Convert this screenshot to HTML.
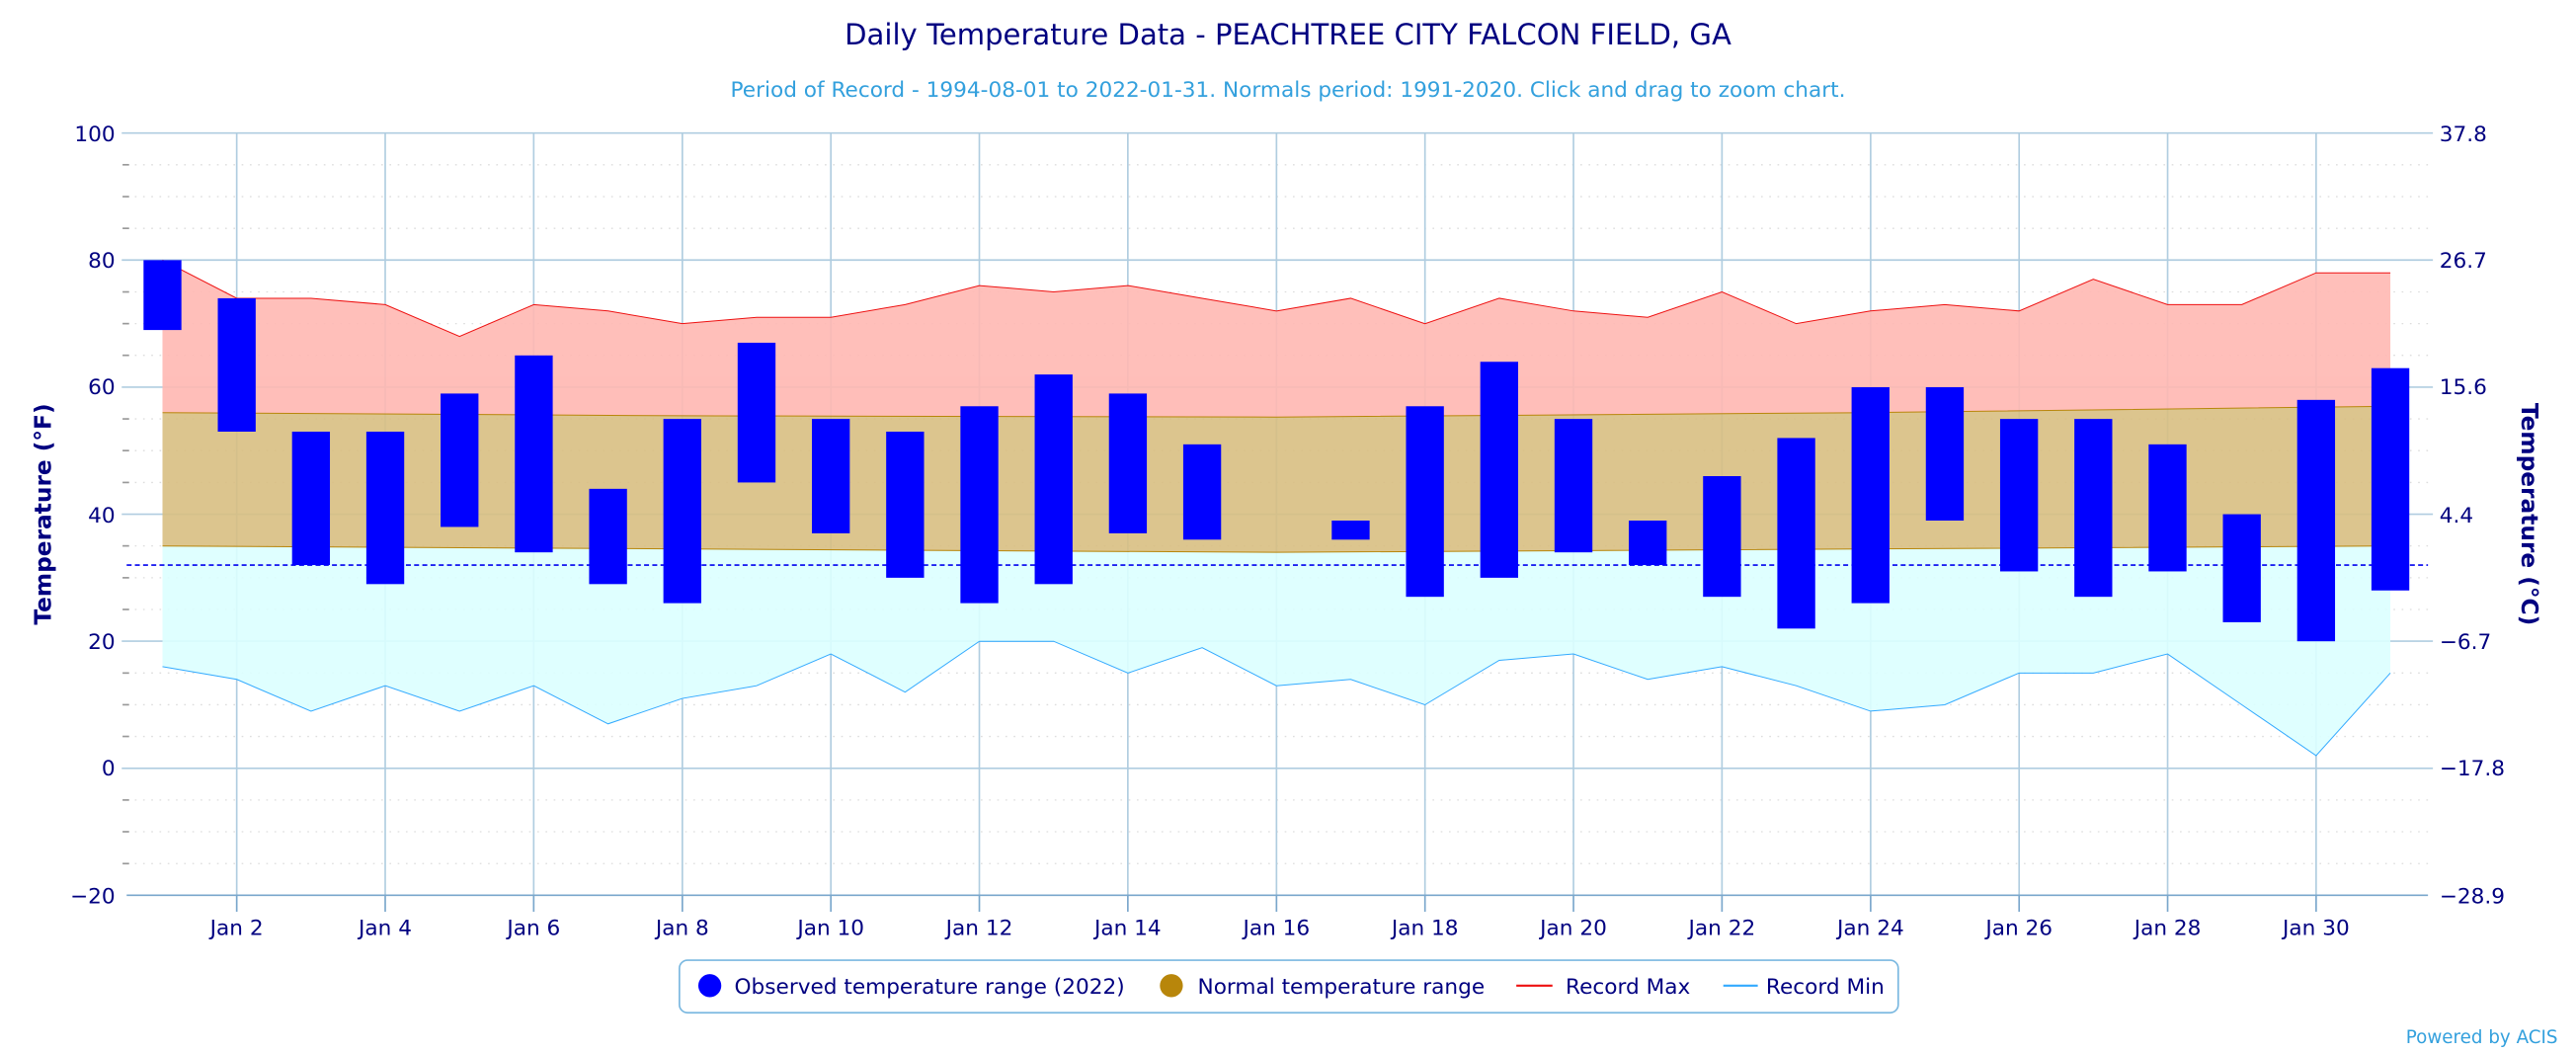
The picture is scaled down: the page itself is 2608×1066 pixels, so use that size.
<!DOCTYPE html>
<html><head><meta charset="utf-8"><style>
html,body{margin:0;padding:0;background:#fff;}
svg{display:block;font-family:"DejaVu Sans","Liberation Sans",sans-serif;}
</style></head><body>
<svg width="2608" height="1066" viewBox="0 0 1568 641" xmlns="http://www.w3.org/2000/svg">
<rect width="1568" height="641" fill="#fff"/>
<text x="784" y="27" text-anchor="middle" font-size="17.5" fill="#000080">Daily Temperature Data - PEACHTREE CITY FALCON FIELD, GA</text>
<text x="784" y="59" text-anchor="middle" font-size="13" fill="#33a0dd">Period of Record - 1994-08-01 to 2022-01-31. Normals period: 1991-2020. Click and drag to zoom chart.</text>

<g stroke="#ddd" stroke-width="0.8" stroke-dasharray="1,4">
<line x1="77" x2="1478" y1="100.3" y2="100.3"/><line x1="77" x2="1478" y1="119.7" y2="119.7"/><line x1="77" x2="1478" y1="139" y2="139"/>
<line x1="77" x2="1478" y1="177.7" y2="177.7"/><line x1="77" x2="1478" y1="197" y2="197"/><line x1="77" x2="1478" y1="216.3" y2="216.3"/>
<line x1="77" x2="1478" y1="255" y2="255"/><line x1="77" x2="1478" y1="274.3" y2="274.3"/><line x1="77" x2="1478" y1="293.7" y2="293.7"/>
<line x1="77" x2="1478" y1="332.3" y2="332.3"/><line x1="77" x2="1478" y1="351.7" y2="351.7"/><line x1="77" x2="1478" y1="371" y2="371"/>
<line x1="77" x2="1478" y1="409.7" y2="409.7"/><line x1="77" x2="1478" y1="429" y2="429"/><line x1="77" x2="1478" y1="448.3" y2="448.3"/>
<line x1="77" x2="1478" y1="487" y2="487"/><line x1="77" x2="1478" y1="506.3" y2="506.3"/><line x1="77" x2="1478" y1="525.7" y2="525.7"/>
</g>
<g stroke="#999" stroke-width="1">
<line x1="74.5" x2="78.5" y1="100.3" y2="100.3"/><line x1="74.5" x2="78.5" y1="119.7" y2="119.7"/><line x1="74.5" x2="78.5" y1="139" y2="139"/>
<line x1="74.5" x2="78.5" y1="177.7" y2="177.7"/><line x1="74.5" x2="78.5" y1="197" y2="197"/><line x1="74.5" x2="78.5" y1="216.3" y2="216.3"/>
<line x1="74.5" x2="78.5" y1="255" y2="255"/><line x1="74.5" x2="78.5" y1="274.3" y2="274.3"/><line x1="74.5" x2="78.5" y1="293.7" y2="293.7"/>
<line x1="74.5" x2="78.5" y1="332.3" y2="332.3"/><line x1="74.5" x2="78.5" y1="351.7" y2="351.7"/><line x1="74.5" x2="78.5" y1="371" y2="371"/>
<line x1="74.5" x2="78.5" y1="409.7" y2="409.7"/><line x1="74.5" x2="78.5" y1="429" y2="429"/><line x1="74.5" x2="78.5" y1="448.3" y2="448.3"/>
<line x1="74.5" x2="78.5" y1="487" y2="487"/><line x1="74.5" x2="78.5" y1="506.3" y2="506.3"/><line x1="74.5" x2="78.5" y1="525.7" y2="525.7"/>
</g>

<g stroke="#b0cde0" stroke-width="1">
<line x1="74" x2="1481" y1="81" y2="81"/><line x1="74" x2="1481" y1="158.3" y2="158.3"/><line x1="74" x2="1481" y1="235.7" y2="235.7"/>
<line x1="74" x2="1481" y1="313" y2="313"/><line x1="74" x2="1481" y1="390.3" y2="390.3"/><line x1="74" x2="1481" y1="467.7" y2="467.7"/>
<line x1="144" x2="144" y1="81" y2="545"/><line x1="234.4" x2="234.4" y1="81" y2="545"/><line x1="324.8" x2="324.8" y1="81" y2="545"/>
<line x1="415.3" x2="415.3" y1="81" y2="545"/><line x1="505.7" x2="505.7" y1="81" y2="545"/><line x1="596.1" x2="596.1" y1="81" y2="545"/>
<line x1="686.5" x2="686.5" y1="81" y2="545"/><line x1="777" x2="777" y1="81" y2="545"/><line x1="867.4" x2="867.4" y1="81" y2="545"/>
<line x1="957.8" x2="957.8" y1="81" y2="545"/><line x1="1048.2" x2="1048.2" y1="81" y2="545"/><line x1="1138.7" x2="1138.7" y1="81" y2="545"/>
<line x1="1229.1" x2="1229.1" y1="81" y2="545"/><line x1="1319.5" x2="1319.5" y1="81" y2="545"/><line x1="1409.9" x2="1409.9" y1="81" y2="545"/>
</g>

<g transform="translate(53.59,467.7) scale(45.21,-3.8667)" opacity="0.9">
<polygon fill="#dcffff" points="1,35 16,34 31,35 31,15 30,2 29,10 28,18 27,15 26,15 25,10 24,9 23,13 22,16 21,14 20,18 19,17 18,10 17,14 16,13 15,19 14,15 13,20 12,20 11,12 10,18 9,13 8,11 7,7 6,13 5,9 4,13 3,9 2,14 1,16"/>
<polygon fill="#ffb8b2" points="1,80 2,74 3,74 4,73 5,68 6,73 7,72 8,70 9,71 10,71 11,73 12,76 13,75 14,76 15,74 16,72 17,74 18,70 19,74 20,72 21,71 22,75 23,70 24,72 25,73 26,72 27,77 28,73 29,73 30,78 31,78 31,57 24,56 16,55.3 8,55.5 1,56"/>
<polygon fill="#d9bf82" points="1,56 8,55.5 16,55.3 24,56 31,57 31,35 16,34 1,35"/>
</g>

<line x1="77" x2="1478" y1="545" y2="545" stroke="#7aa7cc" stroke-width="1"/>
<line x1="77" x2="1478" y1="344" y2="344" stroke="#0000ee" stroke-width="1" stroke-dasharray="3,2"/>

<g transform="translate(53.59,467.7) scale(45.21,-3.8667)" fill="none">
<polyline stroke="#b8860b" stroke-width="1" vector-effect="non-scaling-stroke" points="1,56 8,55.5 16,55.3 24,56 31,57"/>
<polyline stroke="#b8860b" stroke-width="1" vector-effect="non-scaling-stroke" points="1,35 16,34 31,35"/>
<polyline stroke="#ee1111" stroke-width="1" vector-effect="non-scaling-stroke" points="1,80 2,74 3,74 4,73 5,68 6,73 7,72 8,70 9,71 10,71 11,73 12,76 13,75 14,76 15,74 16,72 17,74 18,70 19,74 20,72 21,71 22,75 23,70 24,72 25,73 26,72 27,77 28,73 29,73 30,78 31,78"/>
<polyline stroke="#33aaff" stroke-width="1" vector-effect="non-scaling-stroke" points="1,16 2,14 3,9 4,13 5,9 6,13 7,7 8,11 9,13 10,18 11,12 12,20 13,20 14,15 15,19 16,13 17,14 18,10 19,17 20,18 21,14 22,16 23,13 24,9 25,10 26,15 27,15 28,18 29,10 30,2 31,15"/>
<g fill="#0000ff">
<rect x="0.745" y="69" width="0.51" height="11"/>
<rect x="1.745" y="53" width="0.51" height="21"/>
<rect x="2.745" y="32" width="0.51" height="21"/>
<rect x="3.745" y="29" width="0.51" height="24"/>
<rect x="4.745" y="38" width="0.51" height="21"/>
<rect x="5.745" y="34" width="0.51" height="31"/>
<rect x="6.745" y="29" width="0.51" height="15"/>
<rect x="7.745" y="26" width="0.51" height="29"/>
<rect x="8.745" y="45" width="0.51" height="22"/>
<rect x="9.745" y="37" width="0.51" height="18"/>
<rect x="10.745" y="30" width="0.51" height="23"/>
<rect x="11.745" y="26" width="0.51" height="31"/>
<rect x="12.745" y="29" width="0.51" height="33"/>
<rect x="13.745" y="37" width="0.51" height="22"/>
<rect x="14.745" y="36" width="0.51" height="15"/>
<rect x="16.745" y="36" width="0.51" height="3"/>
<rect x="17.745" y="27" width="0.51" height="30"/>
<rect x="18.745" y="30" width="0.51" height="34"/>
<rect x="19.745" y="34" width="0.51" height="21"/>
<rect x="20.745" y="32" width="0.51" height="7"/>
<rect x="21.745" y="27" width="0.51" height="19"/>
<rect x="22.745" y="22" width="0.51" height="30"/>
<rect x="23.745" y="26" width="0.51" height="34"/>
<rect x="24.745" y="39" width="0.51" height="21"/>
<rect x="25.745" y="31" width="0.51" height="24"/>
<rect x="26.745" y="27" width="0.51" height="28"/>
<rect x="27.745" y="31" width="0.51" height="20"/>
<rect x="28.745" y="23" width="0.51" height="17"/>
<rect x="29.745" y="20" width="0.51" height="38"/>
<rect x="30.745" y="28" width="0.51" height="35"/>
</g>
</g>

<g stroke="#7aa7cc" stroke-width="1">
<line x1="144" x2="144" y1="545" y2="555"/><line x1="234.4" x2="234.4" y1="545" y2="555"/><line x1="324.8" x2="324.8" y1="545" y2="555"/>
<line x1="415.3" x2="415.3" y1="545" y2="555"/><line x1="505.7" x2="505.7" y1="545" y2="555"/><line x1="596.1" x2="596.1" y1="545" y2="555"/>
<line x1="686.5" x2="686.5" y1="545" y2="555"/><line x1="777" x2="777" y1="545" y2="555"/><line x1="867.4" x2="867.4" y1="545" y2="555"/>
<line x1="957.8" x2="957.8" y1="545" y2="555"/><line x1="1048.2" x2="1048.2" y1="545" y2="555"/><line x1="1138.7" x2="1138.7" y1="545" y2="555"/>
<line x1="1229.1" x2="1229.1" y1="545" y2="555"/><line x1="1319.5" x2="1319.5" y1="545" y2="555"/><line x1="1409.9" x2="1409.9" y1="545" y2="555"/>
</g>

<g font-size="13" fill="#000080">
<g text-anchor="end">
<text x="70" y="86">100</text><text x="70" y="163">80</text><text x="70" y="240">60</text>
<text x="70" y="318">40</text><text x="70" y="395">20</text><text x="70" y="472">0</text><text x="70" y="550">−20</text>
</g>
<g text-anchor="start">
<text x="1485" y="86">37.8</text><text x="1485" y="163">26.7</text><text x="1485" y="240">15.6</text>
<text x="1485" y="318">4.4</text><text x="1485" y="395">−6.7</text><text x="1485" y="472">−17.8</text><text x="1485" y="550">−28.9</text>
</g>
<g text-anchor="middle">
<text x="144" y="569">Jan 2</text><text x="234.4" y="569">Jan 4</text><text x="324.8" y="569">Jan 6</text>
<text x="415.3" y="569">Jan 8</text><text x="505.7" y="569">Jan 10</text><text x="596.1" y="569">Jan 12</text>
<text x="686.5" y="569">Jan 14</text><text x="777" y="569">Jan 16</text><text x="867.4" y="569">Jan 18</text>
<text x="957.8" y="569">Jan 20</text><text x="1048.2" y="569">Jan 22</text><text x="1138.7" y="569">Jan 24</text>
<text x="1229.1" y="569">Jan 26</text><text x="1319.5" y="569">Jan 28</text><text x="1409.9" y="569">Jan 30</text>
</g>
<text transform="translate(31,313) rotate(-90)" text-anchor="middle" font-size="14" font-weight="bold">Temperature (°F)</text>
<text transform="translate(1535,313) rotate(90)" text-anchor="middle" font-size="14" font-weight="bold">Temperature (°C)</text>
</g>

<rect x="413.5" y="584.5" width="742" height="32" rx="5" fill="#fff" stroke="#7ab8e0" stroke-width="1"/>
<g font-size="13" fill="#000080">
<circle cx="432" cy="600" r="7" fill="#0000ff"/>
<text x="447" y="605">Observed temperature range (2022)</text>
<circle cx="713" cy="600" r="7" fill="#b8860b"/>
<text x="729" y="605">Normal temperature range</text>
<line x1="923" x2="945" y1="600" y2="600" stroke="#ee1111" stroke-width="1.3"/>
<text x="953" y="605">Record Max</text>
<line x1="1049" x2="1070" y1="600" y2="600" stroke="#33aaff" stroke-width="1.3"/>
<text x="1075" y="605">Record Min</text>
</g>
<text x="1557" y="635" text-anchor="end" font-size="11" fill="#33a0dd">Powered by ACIS</text>
</svg>
</body></html>
